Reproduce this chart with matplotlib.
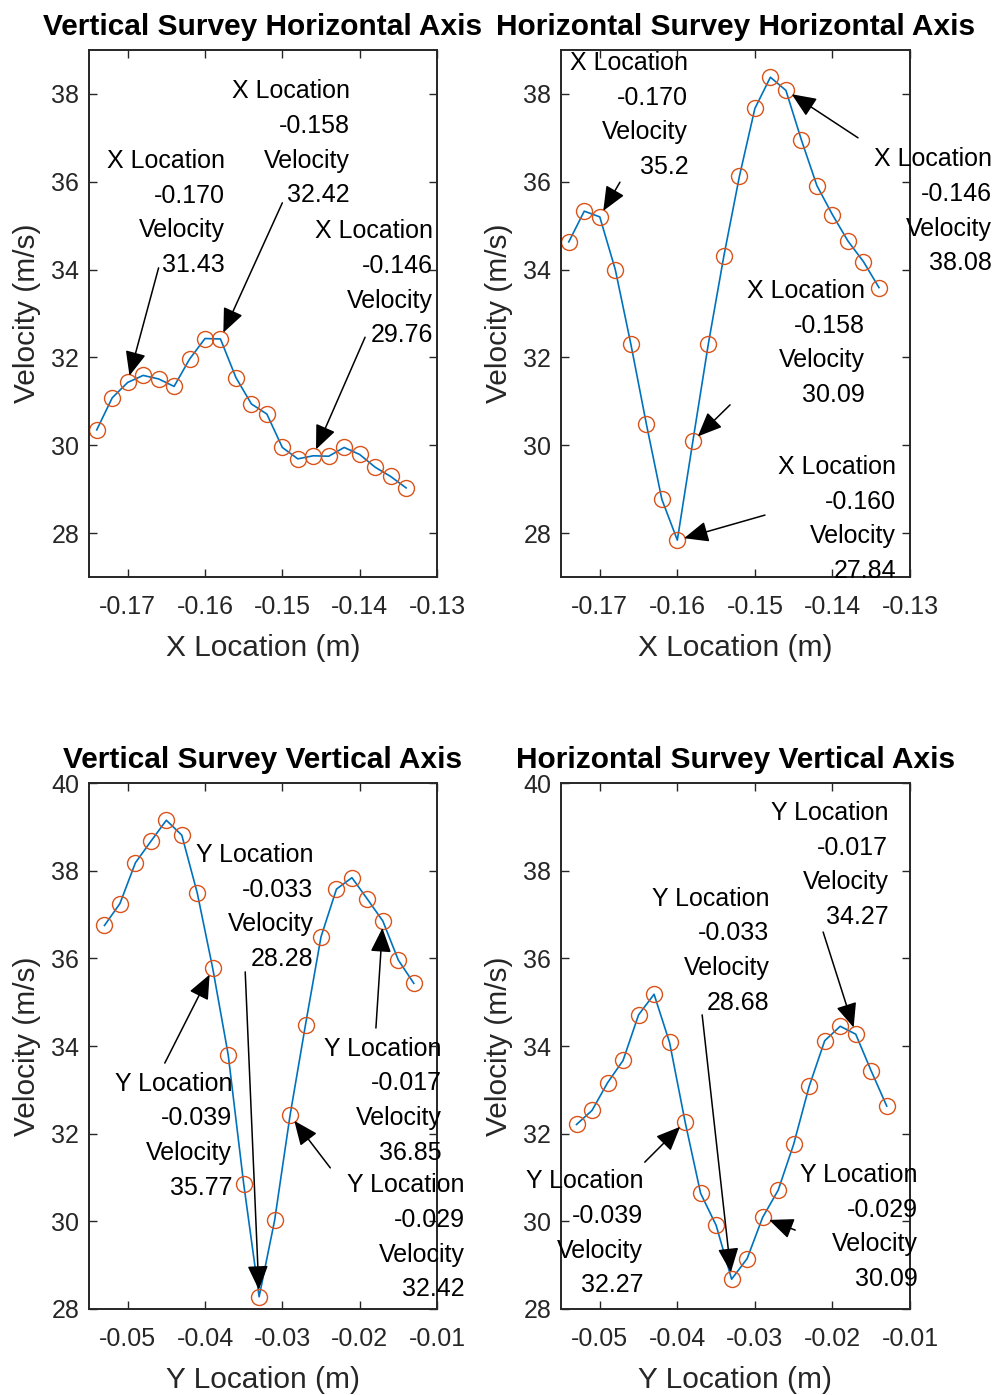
import numpy as np
import matplotlib
matplotlib.use("Agg")
import matplotlib.pyplot as plt
from matplotlib.ticker import FormatStrFormatter

plt.rcParams['font.family'] = ['Liberation Sans', 'DejaVu Sans']
plt.rcParams['axes.unicode_minus'] = False

# measurement locations (m)
x_loc = [-0.174, -0.172, -0.170, -0.168, -0.166, -0.164, -0.162, -0.160, -0.158, -0.156, -0.154,
         -0.152, -0.150, -0.148, -0.146, -0.144, -0.142, -0.140, -0.138, -0.136, -0.134]
y_loc = [-0.053, -0.051, -0.049, -0.047, -0.045, -0.043, -0.041, -0.039, -0.037, -0.035, -0.033,
         -0.031, -0.029, -0.027, -0.025, -0.023, -0.021, -0.019, -0.017, -0.015, -0.013]

# velocities (m/s)
vs_horiz = [30.35, 31.08, 31.43, 31.59, 31.51, 31.34, 31.96, 32.43, 32.42, 31.54, 30.94,
            30.71, 29.95, 29.69, 29.76, 29.75, 29.95, 29.79, 29.50, 29.29, 29.03]
hs_horiz = [34.63, 35.33, 35.20, 34.00, 32.31, 30.49, 28.77, 27.84, 30.09, 32.31, 34.31,
            36.12, 37.67, 38.38, 38.08, 36.95, 35.91, 35.25, 34.65, 34.18, 33.59]
vs_vert = [36.75, 37.25, 38.18, 38.67, 39.15, 38.81, 37.49, 35.77, 33.80, 30.86, 28.28,
           30.02, 32.42, 34.49, 36.49, 37.58, 37.84, 37.35, 36.85, 35.96, 35.43]
hs_vert = [32.21, 32.53, 33.16, 33.67, 34.71, 35.18, 34.08, 32.27, 30.64, 29.91, 28.68,
           29.15, 30.09, 30.71, 31.76, 33.08, 34.12, 34.45, 34.27, 33.43, 32.63]

titles = ["Vertical Survey Horizontal Axis", "Horizontal Survey Horizontal Axis",
          "Vertical Survey Vertical Axis", "Horizontal Survey Vertical Axis"]

# data tips: (point index, text position, arrow tail)
tips_vs_h = [(2, (-0.1574, 35.29), (-0.1660, 34.04)),
             (8, (-0.1413, 36.88), (-0.1500, 35.52)),
             (14, (-0.1305, 33.69), (-0.1393, 32.46))]
tips_hs_h = [(2, (-0.1586, 37.52), (-0.1674, 35.99)),
             (14, (-0.1194, 35.33), (-0.1367, 37.00)),
             (8, (-0.1358, 32.33), (-0.1532, 30.92)),
             (7, (-0.1318, 28.32), (-0.1487, 28.41))]
tips_vs_v = [(10, (-0.0260, 37.17), (-0.0348, 35.69)),
             (7, (-0.0365, 31.95), (-0.0452, 33.61)),
             (18, (-0.0094, 32.75), (-0.0179, 34.41)),
             (12, (-0.0064, 29.64), (-0.0238, 31.22))]
tips_hs_v = [(18, (-0.0128, 38.13), (-0.0212, 36.60)),
             (10, (-0.0281, 36.17), (-0.0368, 34.71)),
             (7, (-0.0444, 29.73), (-0.0442, 31.35)),
             (12, (-0.0090, 29.87), (-0.0248, 29.80))]

BLUE = '#0072BD'
ORANGE = '#D95319'
GREY = '#262626'


def draw_panel(ax, loc, vel, title, xname, tips, xlim, ylim, xticks, yticks):
    ax.plot(loc, vel, color=BLUE, lw=1.2)
    ax.plot(loc, vel, 'o', mfc='none', mec=ORANGE, mew=1.0, ms=11.5)
    ax.set_xlim(xlim)
    ax.set_ylim(ylim)
    ax.set_xticks(xticks)
    ax.set_yticks(yticks)
    ax.xaxis.set_major_formatter(FormatStrFormatter('%.2f'))
    ax.tick_params(direction='in', top=True, right=True, length=5.5, width=1.0,
                   colors=GREY, labelsize=18)
    ax.tick_params(axis='x', pad=13)
    ax.tick_params(axis='y', pad=7)
    for s in ax.spines.values():
        s.set_color(GREY)
        s.set_linewidth(1.4)
    ax.set_title(title, fontsize=21.5, fontweight='bold', pad=11)
    ax.set_xlabel(xname + ' Location (m)', fontsize=21.5, color=GREY, va='center')
    ax.set_ylabel('Velocity (m/s)', fontsize=21.5, color=GREY, va='center')
    ax.xaxis.set_label_coords(0.5, -0.135)
    ax.yaxis.set_label_coords(-0.178, 0.5)

    for i, txy, tail in tips:
        label = "%s Location\n%.3f\nVelocity\n%.4g" % (xname, loc[i], vel[i])
        ax.text(txy[0], txy[1], label, ha='right', va='center', multialignment='right',
                fontsize=18, linespacing=1.57, color='black', clip_on=False, zorder=5)
        ax.annotate('', xy=(loc[i], vel[i]), xytext=tail, annotation_clip=False,
                    arrowprops=dict(arrowstyle='-|>,head_length=0.75,head_width=0.32',
                                    mutation_scale=20, color='black', lw=1.1,
                                    shrinkA=0, shrinkB=5), zorder=6)


fig = plt.figure(figsize=(9.98, 13.95), dpi=100)
W, H = 998.0, 1395.0
ax1 = fig.add_axes([89 / W, 1 - 577 / H, 348 / W, 527 / H])
ax2 = fig.add_axes([561 / W, 1 - 577 / H, 349 / W, 527 / H])
ax3 = fig.add_axes([89 / W, 1 - 1309 / H, 348 / W, 526 / H])
ax4 = fig.add_axes([561 / W, 1 - 1309 / H, 349 / W, 526 / H])

top_xt = [-0.17, -0.16, -0.15, -0.14, -0.13]
bot_xt = [-0.05, -0.04, -0.03, -0.02, -0.01]
draw_panel(ax1, x_loc, vs_horiz, titles[0], 'X', tips_vs_h, (-0.175, -0.13), (27, 39),
           top_xt, [28, 30, 32, 34, 36, 38])
draw_panel(ax2, x_loc, hs_horiz, titles[1], 'X', tips_hs_h, (-0.175, -0.13), (27, 39),
           top_xt, [28, 30, 32, 34, 36, 38])
draw_panel(ax3, y_loc, vs_vert, titles[2], 'Y', tips_vs_v, (-0.055, -0.01), (28, 40),
           bot_xt, [28, 30, 32, 34, 36, 38, 40])
draw_panel(ax4, y_loc, hs_vert, titles[3], 'Y', tips_hs_v, (-0.055, -0.01), (28, 40),
           bot_xt, [28, 30, 32, 34, 36, 38, 40])

fig.savefig('out.png', dpi=100, facecolor='white')
